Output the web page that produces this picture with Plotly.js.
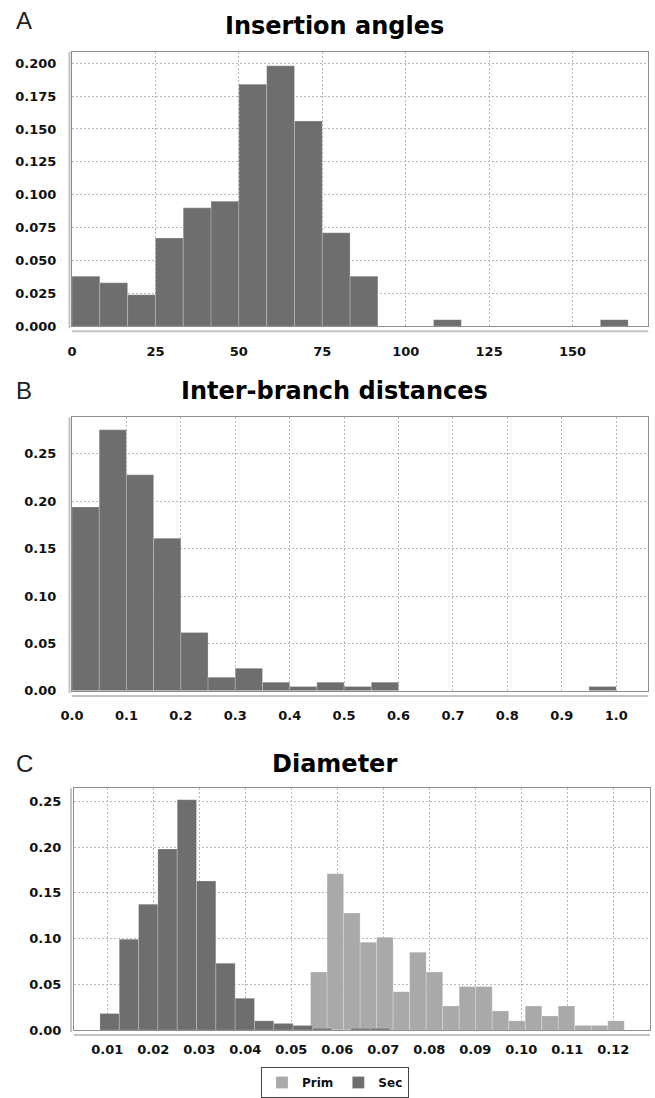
<!DOCTYPE html>
<html><head><meta charset="utf-8">
<script src="https://cdn.plot.ly/plotly-3.0.1.min.js"></script>
<style>html,body{margin:0;padding:0;background:#fff}#chart{width:655px;height:1098px}</style>
</head><body><div id="chart"></div>
<script>
// ---------- Panel A: Insertion angles ----------
const angleBinStart = 0;
const angleBinWidth = 25 / 3;
const angleFreq = [0.038, 0.033, 0.024, 0.067, 0.090, 0.095, 0.184, 0.198, 0.156, 0.071,
                   0.038, 0, 0, 0.005, 0, 0, 0, 0, 0, 0.005];

// ---------- Panel B: Inter-branch distances ----------
const distBinStart = 0;
const distBinWidth = 0.05;
const distFreq = [0.194, 0.2755, 0.228, 0.161, 0.0615, 0.0143, 0.0238, 0.0091, 0.0045, 0.0091,
                  0.0045, 0.0091, 0, 0, 0, 0, 0, 0, 0, 0.0045];

// ---------- Panel C: Diameter ----------
const seriesNames = ["Prim", "Sec"];
const secBinStart = 0.0084;
const secBinWidth = 0.0042;
const secFreq = [0.0181, 0.0993, 0.1377, 0.198, 0.252, 0.163, 0.0732, 0.0348, 0.0101, 0.0073,
                 0.0051, 0.002, 0, 0.002, 0.002];
const primBinStart = 0.0542;
const primBinWidth = 0.00359;
const primFreq = [0.0634, 0.171, 0.128, 0.096, 0.1015, 0.042, 0.0852, 0.0634, 0.0264, 0.0476,
                  0.0476, 0.021, 0.0101, 0.0264, 0.0155, 0.0264, 0.0051, 0.0051, 0.0101];

const panelTitles = ["Insertion angles", "Inter-branch distances", "Diameter"];
const panelLetters = ["A", "B", "C"];

function edges(start, w, n) { return Array.from({length: n}, (_, i) => start + i * w); }

const DARK = "#6e6e6e", LIGHT = "#a9a9a9";
const barLine = {width: 1, color: "rgba(255,255,255,0.22)"};

const traces = [
  {type: "bar", x: edges(angleBinStart, angleBinWidth, angleFreq.length), y: angleFreq,
   width: angleBinWidth, offset: 0, marker: {color: DARK, line: barLine},
   xaxis: "x", yaxis: "y", showlegend: false},
  {type: "bar", x: edges(distBinStart, distBinWidth, distFreq.length), y: distFreq,
   width: distBinWidth, offset: 0, marker: {color: DARK, line: barLine},
   xaxis: "x2", yaxis: "y2", showlegend: false},
  {type: "bar", name: seriesNames[0], x: edges(primBinStart, primBinWidth, primFreq.length), y: primFreq,
   width: primBinWidth, offset: 0, marker: {color: LIGHT, line: barLine},
   xaxis: "x3", yaxis: "y3"},
  {type: "bar", name: seriesNames[1], x: edges(secBinStart, secBinWidth, secFreq.length), y: secFreq,
   width: secBinWidth, offset: 0, marker: {color: DARK, line: barLine},
   xaxis: "x3", yaxis: "y3"}
];

const W = 655, H = 1098;
const px = v => v / W, py = v => 1 - v / H;

const tickFont = {family: "DejaVu Sans", size: 13, color: "#111", weight: "bold"};
const gridStyle = {showgrid: true, gridcolor: "#b8b8b8", gridwidth: 1, griddash: "2px,2px",
  showline: true, mirror: true, linecolor: "#8f8f8f", linewidth: 1, zeroline: false,
  ticks: "", tickfont: tickFont, fixedrange: true};

const layout = {
  width: W, height: H, margin: {l: 0, r: 0, t: 0, b: 0},
  paper_bgcolor: "#fff", plot_bgcolor: "#fff", barmode: "overlay",
  xaxis: Object.assign({}, gridStyle, {domain: [px(72), px(648.3)], anchor: "y",
    range: [0, 172.7], tick0: 0, dtick: 25, ticklabelstandoff: 13}),
  yaxis: Object.assign({}, gridStyle, {domain: [py(328.3), py(52)], anchor: "x",
    range: [0, 0.2088], tick0: 0, dtick: 0.025, tickformat: ".3f", ticklabelstandoff: 12}),
  xaxis2: Object.assign({}, gridStyle, {domain: [px(72), px(648.3)], anchor: "y2",
    range: [0, 1.059], tick0: 0, dtick: 0.1, tickformat: ".1f", ticklabelstandoff: 13}),
  yaxis2: Object.assign({}, gridStyle, {domain: [py(695.3), py(420)], anchor: "x2",
    range: [0, 0.2886], tick0: 0, dtick: 0.05, tickformat: ".2f", ticklabelstandoff: 12}),
  xaxis3: Object.assign({}, gridStyle, {domain: [px(74), px(650)], anchor: "y3",
    range: [0.00276, 0.128], tick0: 0, dtick: 0.01, tickformat: ".2f", ticklabelstandoff: 7}),
  yaxis3: Object.assign({}, gridStyle, {domain: [py(1036.7), py(793.3)], anchor: "x3",
    range: [0, 0.2645], tick0: 0, dtick: 0.05, tickformat: ".2f", ticklabelstandoff: 9}),
  legend: {orientation: "h", x: px(335), xanchor: "center", y: py(1074), yanchor: "top",
    bordercolor: "#444", borderwidth: 1, bgcolor: "#fff",
    font: {family: "DejaVu Sans", size: 12, color: "#111", weight: "bold"},
    itemwidth: 30, tracegroupgap: 0},
  annotations: [],
  shapes: []
};

const titleY = [26, 394, 769];
const letterY = [21, 393, 768];
for (let i = 0; i < 3; i++) {
  layout.annotations.push({xref: "paper", yref: "paper", x: px(334), y: py(titleY[i]),
    xanchor: "center", yanchor: "middle", showarrow: false, text: panelTitles[i],
    font: {family: "DejaVu Sans", size: 24, color: "#000", weight: "bold"}});
  layout.annotations.push({xref: "paper", yref: "paper", x: px(14), y: py(letterY[i]),
    xanchor: "left", yanchor: "middle", showarrow: false, text: panelLetters[i],
    font: {family: "Liberation Sans", size: 24, color: "#222"}});
}

// offset axis lines (JFreeChart style)
const axisLines = [
  {bottom: 333.3, left: 69.5, top: 52, l: 72, r: 648.3},
  {bottom: 700.5, left: 69.5, top: 420, l: 72, r: 648.3},
  {bottom: 1041.7, left: 71, top: 793.3, l: 74, r: 650}
];
axisLines.forEach(a => {
  layout.shapes.push({type: "line", xref: "paper", yref: "paper", x0: px(a.l), x1: px(a.r),
    y0: py(a.bottom), y1: py(a.bottom), line: {color: "#c2c2c2", width: 2}});
  layout.shapes.push({type: "line", xref: "paper", yref: "paper", x0: px(a.left), x1: px(a.left),
    y0: py(a.top), y1: py(a.bottom - 3), line: {color: "#c2c2c2", width: 2}});
});

Plotly.newPlot("chart", traces, layout, {displayModeBar: false, staticPlot: true});
</script>
</body></html>
